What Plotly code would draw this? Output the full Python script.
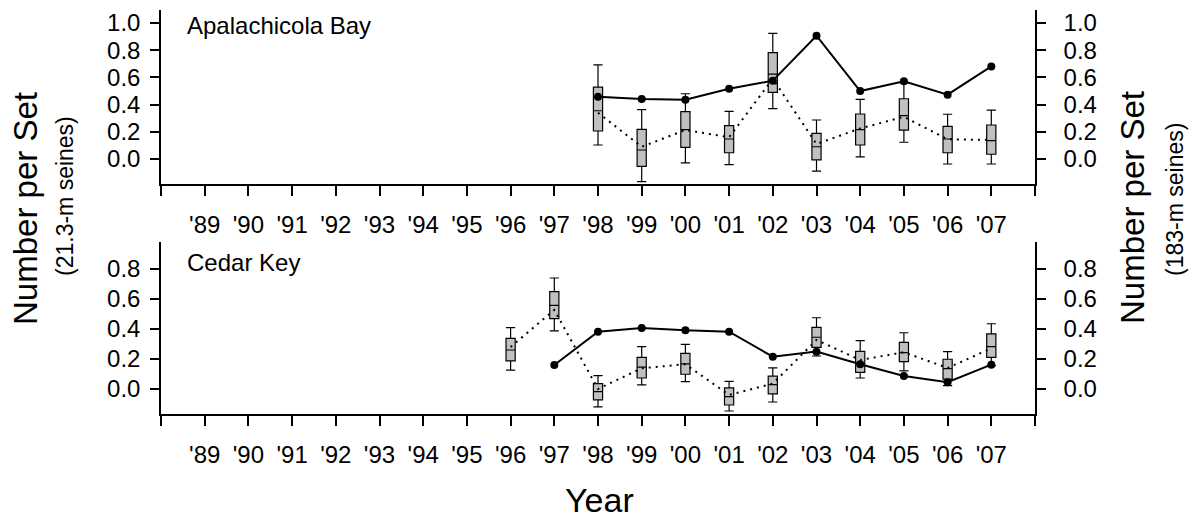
import plotly.graph_objects as go

# ---------------- data ----------------
year_ticks = list(range(1988, 2009))
year_labels = ["" if y in (1988, 2008) else "'" + str(y)[2:] for y in year_ticks]

# Apalachicola Bay
apa_box_years = [1998, 1999, 2000, 2001, 2002, 2003, 2004, 2005, 2006, 2007]
apa_wlo = [0.103, -0.167, -0.029, -0.042, 0.37, -0.09, 0.015, 0.123, -0.037, -0.037]
apa_q1 = [0.206, -0.054, 0.086, 0.046, 0.49, -0.007, 0.103, 0.213, 0.046, 0.035]
apa_med = [0.355, 0.066, 0.216, 0.147, 0.625, 0.09, 0.216, 0.319, 0.147, 0.135]
apa_q3 = [0.529, 0.218, 0.348, 0.245, 0.782, 0.189, 0.331, 0.443, 0.24, 0.25]
apa_whi = [0.693, 0.363, 0.48, 0.35, 0.924, 0.287, 0.439, 0.56, 0.329, 0.36]
apa_mean = [0.34, 0.09, 0.213, 0.16, 0.59, 0.11, 0.225, 0.31, 0.145, 0.14]
apa_line_years = [1998, 1999, 2000, 2001, 2002, 2003, 2004, 2005, 2006, 2007]
apa_line = [0.458, 0.441, 0.436, 0.517, 0.576, 0.907, 0.5, 0.571, 0.473, 0.681]

# Cedar Key
ck_box_years = [1996, 1997, 1998, 1999, 2000, 2001, 2002, 2003, 2004, 2005, 2006, 2007]
ck_wlo = [0.125, 0.387, -0.12, 0.027, 0.049, -0.147, -0.087, 0.22, 0.073, 0.12, 0.022, 0.155]
ck_q1 = [0.187, 0.469, -0.073, 0.073, 0.098, -0.107, -0.033, 0.278, 0.111, 0.182, 0.065, 0.211]
ck_med = [0.26, 0.558, -0.018, 0.145, 0.167, -0.051, 0.029, 0.345, 0.171, 0.242, 0.135, 0.282]
ck_q3 = [0.338, 0.649, 0.035, 0.211, 0.238, 0.007, 0.085, 0.411, 0.251, 0.311, 0.198, 0.367]
ck_whi = [0.409, 0.74, 0.089, 0.282, 0.298, 0.051, 0.14, 0.475, 0.322, 0.375, 0.249, 0.435]
ck_mean = [0.28, 0.527, 0.0, 0.138, 0.165, -0.04, 0.035, 0.327, 0.193, 0.245, 0.14, 0.271]
ck_line_years = [1997, 1998, 1999, 2000, 2001, 2002, 2003, 2004, 2005, 2006, 2007]
ck_line = [0.16, 0.382, 0.407, 0.391, 0.382, 0.215, 0.249, 0.165, 0.087, 0.045, 0.162]

top_ticks = [0.0, 0.2, 0.4, 0.6, 0.8, 1.0]
bot_ticks = [0.0, 0.2, 0.4, 0.6, 0.8]

FONT = "Liberation Sans, Arial, sans-serif"
TICKF = dict(family=FONT, size=24, color="black")

fig = go.Figure()


def add_panel(box_years, wlo, q1, med, q3, whi, mean, line_years, line, ya, ya_r, xa):
    fig.add_trace(go.Box(
        x=box_years, q1=q1, median=med, q3=q3, lowerfence=wlo, upperfence=whi,
        width=0.21, whiskerwidth=1, fillcolor="#c0c0c0",
        line=dict(color="black", width=1.2), boxpoints=False,
        xaxis=xa, yaxis=ya, showlegend=False, hoverinfo="skip"))
    fig.add_trace(go.Scatter(
        x=box_years, y=mean, mode="lines",
        line=dict(color="black", width=2, dash="2px,5px"),
        xaxis=xa, yaxis=ya, showlegend=False, hoverinfo="skip"))
    fig.add_trace(go.Scatter(
        x=line_years, y=line, mode="lines+markers",
        line=dict(color="black", width=2),
        marker=dict(color="black", size=8),
        xaxis=xa, yaxis=ya_r, showlegend=False, hoverinfo="skip"))


add_panel(apa_box_years, apa_wlo, apa_q1, apa_med, apa_q3, apa_whi, apa_mean,
          apa_line_years, apa_line, "y", "y3", "x")
add_panel(ck_box_years, ck_wlo, ck_q1, ck_med, ck_q3, ck_whi, ck_mean,
          ck_line_years, ck_line, "y2", "y4", "x2")

xcommon = dict(range=[1988, 2008], tickvals=year_ticks, ticktext=year_labels,
               ticks="outside", ticklen=10, tickwidth=1.5, tickcolor="black",
               showline=True, linecolor="black", linewidth=1.5,
               showgrid=False, zeroline=False, tickfont=TICKF,
               ticklabelstandoff=8)
ycommon = dict(ticks="outside", ticklen=9, tickwidth=1.5, tickcolor="black",
               showline=True, linecolor="black", linewidth=1.5,
               showgrid=False, zeroline=False, tickfont=TICKF, tickformat=".1f")

top_dom = [0.5693, 1.0]
bot_dom = [0.0, 0.4257]
top_rng = [-0.184, 1.096]
bot_rng = [-0.167, 0.98]

fig.update_layout(
    width=1193, height=520,
    margin=dict(l=161, r=158, t=10, b=106),
    paper_bgcolor="white", plot_bgcolor="white",
    font=dict(family=FONT, color="black"),
    xaxis=dict(domain=[0, 1], anchor="y", **xcommon),
    xaxis2=dict(domain=[0, 1], anchor="y2", **xcommon),
    yaxis=dict(domain=top_dom, anchor="x", range=top_rng, tickvals=top_ticks,
               ticklabelstandoff=5, **ycommon),
    yaxis2=dict(domain=bot_dom, anchor="x2", range=bot_rng, tickvals=bot_ticks,
                ticklabelstandoff=5, **ycommon),
    yaxis3=dict(overlaying="y", side="right", anchor="x", range=top_rng,
                tickvals=top_ticks, ticklabelstandoff=13, **ycommon),
    yaxis4=dict(overlaying="y2", side="right", anchor="x2", range=bot_rng,
                tickvals=bot_ticks, ticklabelstandoff=13, **ycommon),
)

W = 874.0
H = 404.0


def px(xp):
    return (xp - 161) / W


def py(yp):
    return (414 - yp) / H


ann = [
    dict(text="Number per Set", x=px(25), y=py(209), textangle=-90, font=dict(size=33)),
    dict(text="(21.3-m seines)", x=px(65), y=py(196), textangle=-90, font=dict(size=23)),
    dict(text="Number per Set", x=px(1132), y=py(208), textangle=-90, font=dict(size=33)),
    dict(text="(183-m seines)", x=px(1175), y=py(200), textangle=-90, font=dict(size=23)),
    dict(text="Year", x=px(599), y=py(500), font=dict(size=34)),
    dict(text="Apalachicola Bay", x=px(185), y=py(25), xanchor="left", font=dict(size=24)),
    dict(text="Cedar Key", x=px(185), y=py(262), xanchor="left", font=dict(size=24)),
]
for a in ann:
    a.setdefault("xanchor", "center")
    a["font"] = dict(family=FONT, color="black", **a["font"])
    fig.add_annotation(xref="paper", yref="paper", showarrow=False,
                       yanchor="middle", **a)

fig.write_html("out.html")
